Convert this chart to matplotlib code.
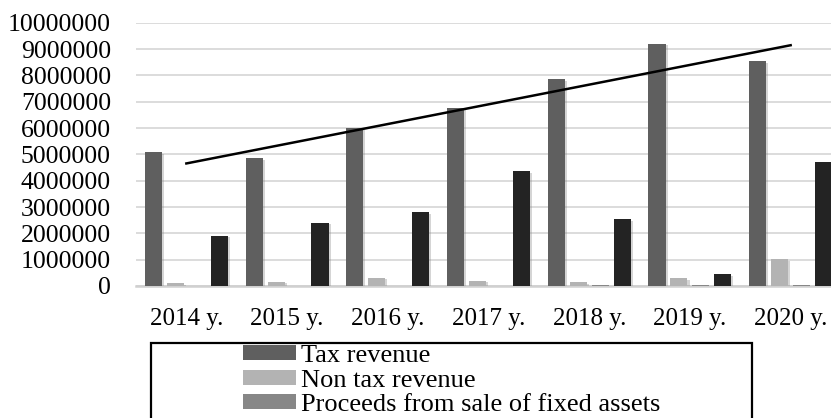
import matplotlib
matplotlib.use("Agg")
import matplotlib.pyplot as plt
import matplotlib.patheffects as pe
from matplotlib.patches import Rectangle, Patch
import numpy as np

plt.rcParams['font.family'] = ['Liberation Serif', 'DejaVu Serif']

# data
years = ['2014 y.', '2015 y.', '2016 y.', '2017 y.', '2018 y.', '2019 y.', '2020 y.']
tax_revenue = [5080000, 4850000, 5990000, 6770000, 7860000, 9200000, 8540000]
non_tax_revenue = [120000, 160000, 320000, 200000, 150000, 290000, 1010000]
fixed_assets = [10000, 10000, 5000, 8000, 20000, 40000, 40000]
transfers = [1910000, 2410000, 2810000, 4370000, 2540000, 440000, 4720000]

series = [
    ('Tax revenue', tax_revenue, '#5f5f5f'),
    ('Non tax revenue', non_tax_revenue, '#b3b3b3'),
    ('Proceeds from sale of fixed assets', fixed_assets, '#878787'),
    ('Official transfers', transfers, '#232323'),
]

fig = plt.figure(figsize=(8.31, 4.18), dpi=100)
ax = fig.add_axes([136 / 831, 1 - 286 / 418, 705 / 831, (286 - 22.67) / 418])

x = np.arange(len(years))
pitch = 0.218
width = 0.169
shadow = [pe.SimplePatchShadow(offset=(1.5, -1.2), shadow_rgbFace='#888888', alpha=0.35),
          pe.Normal()]
for i, (name, vals, col) in enumerate(series):
    ax.bar(x + (i - 1.5) * pitch, vals, width, color=col, label=name,
           zorder=3, path_effects=shadow)

# linear trend of tax revenue
k, b = np.polyfit(x, tax_revenue, 1)
ax.plot([x[0], x[-1]], [b, k * x[-1] + b], color='black', lw=1.8, zorder=4)

ax.set_xlim(-0.5, len(years) - 0.5)
ax.set_ylim(0, 10000000)
ax.set_yticks(np.arange(0, 10000001, 1000000))
ax.set_yticklabels([str(v) for v in range(0, 10000001, 1000000)])
ax.set_xticks(x)
ax.set_xticklabels(years)
ax.tick_params(axis='y', length=0, pad=18, labelsize=18.5)
ax.tick_params(axis='x', length=0, pad=16, labelsize=18)
ax.grid(axis='y', color='#d9d9d9', lw=1.3, zorder=0)
for s in ['left', 'right', 'top']:
    ax.spines[s].set_visible(False)
ax.spines['bottom'].set_color('#d0d0d0')
ax.spines['bottom'].set_linewidth(1.8)

# legend box (runs off the bottom of the image, only 3 entries visible)
handles = [Patch(facecolor=col, label=name) for name, _, col in series[:3]]
fig.legend(handles=handles, loc='upper left', bbox_to_anchor=(243 / 831, 1 - 345 / 418),
           frameon=False, fontsize=19, borderpad=0, borderaxespad=0,
           handlelength=2.0, handleheight=0.5, handletextpad=0.2, labelspacing=0.1)
fig.patches.append(Rectangle((151 / 831, -0.2), (752 - 151) / 831, 0.2 + 1 - 343 / 418,
                             transform=fig.transFigure, fill=False,
                             edgecolor='black', lw=1.6))

fig.savefig('out.png', dpi=100)
